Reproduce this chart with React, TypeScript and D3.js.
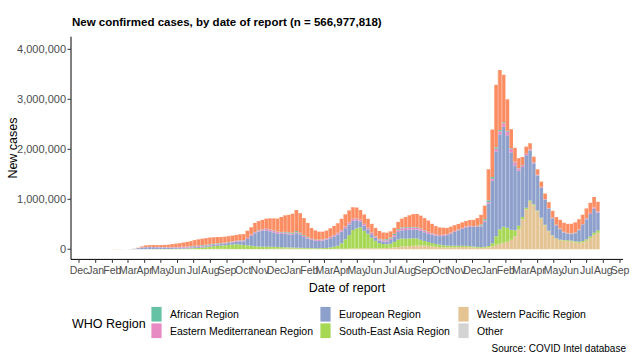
import React from 'react';
import * as d3 from 'd3';

// weekly bars, values = daily cases (thousands) for a typical day of the week
const firstWeek = new Date(2019, 11, 30);
const weekCount = 134;

const westernPacific = [
  0, 0, 0, 0.2, 2, 3.5, 4, 2, 0.6, 0.8,
  0.6, 0.8, 1.2, 1.6, 2, 1.6, 1.2, 1, 0.8, 0.8,
  1, 1.2, 1.5, 1.8, 2, 2.5, 3, 3.5, 4, 5,
  6, 7, 8, 8, 7, 6.5, 6, 6, 6, 6,
  5.5, 5, 5, 5.5, 6, 7, 8, 9, 10, 11,
  12, 13, 12, 11, 11, 10, 9, 8, 7, 6,
  6, 6, 7, 8, 9, 10, 11, 13, 15, 16,
  18, 20, 22, 22, 20, 18, 20, 25, 30, 38,
  45, 55, 60, 65, 70, 75, 75, 75, 70, 60,
  50, 45, 40, 38, 38, 40, 42, 45, 45, 42,
  35, 30, 28, 30, 40, 60, 90, 110, 130, 150,
  190, 260, 400, 600, 800, 950, 880, 760, 620, 480,
  360, 270, 210, 180, 170, 165, 155, 140, 130, 140,
  170, 220, 290, 330,
];

const southEastAsia = [
  0, 0, 0, 0, 0, 0, 0, 0, 0, 0,
  0.02, 0.1, 0.3, 0.6, 1, 1.5, 2, 2.5, 3.5, 4.5,
  6, 7.5, 9, 11, 13, 16, 20, 25, 30, 36,
  45, 54, 60, 66, 72, 80, 88, 93, 88, 80,
  72, 65, 56, 50, 46, 45, 43, 40, 36, 32,
  28, 25, 22, 20, 19, 17, 16, 15, 14, 16,
  18, 20, 28, 42, 62, 110, 190, 270, 370, 400,
  420, 350, 290, 210, 150, 105, 85, 75, 80, 110,
  150, 160, 150, 150, 150, 140, 115, 90, 75, 65,
  55, 48, 40, 35, 32, 30, 28, 26, 24, 22,
  20, 18, 17, 18, 25, 60, 170, 290, 320, 280,
  200, 120, 70, 45, 30, 25, 20, 15, 12, 10,
  10, 10, 10, 12, 14, 16, 18, 20, 22, 25,
  30, 35, 40, 45,
];

const european = [
  0, 0, 0, 0, 0, 0, 0, 0, 0, 2,
  8, 20, 32, 38, 39, 38, 35, 33, 30, 26,
  22, 20, 19, 19, 19, 19, 20, 20, 20, 21,
  22, 24, 27, 30, 34, 38, 44, 52, 66, 75,
  130, 200, 260, 300, 320, 325, 310, 290, 270, 265,
  270, 260, 255, 290, 260, 220, 190, 165, 150, 145,
  150, 165, 185, 205, 225, 230, 220, 215, 185, 160,
  120, 105, 85, 70, 60, 52, 50, 55, 75, 105,
  150, 165, 175, 175, 175, 180, 180, 175, 170, 165,
  165, 170, 190, 210, 245, 280, 310, 340, 370, 390,
  390, 400, 410, 500, 850, 1250, 1700, 1900, 2000, 1850,
  1550, 1300, 1100, 1000, 1050, 1000, 820, 700, 600, 500,
  440, 340, 260, 210, 150, 130, 130, 160, 230, 320,
  400, 450, 480, 360,
];

const easternMed = [
  0, 0, 0, 0, 0, 0, 0, 0, 0, 1.2,
  1.5, 2.2, 3, 4, 5, 5.5, 6.5, 7, 8, 9,
  10, 12, 14, 16, 18, 18, 17, 17, 16, 15,
  14, 13, 12, 12, 12, 13, 14, 15, 16, 17,
  18, 19, 20, 22, 25, 28, 30, 31, 30, 28,
  25, 23, 21, 20, 20, 19, 18, 18, 18, 19,
  20, 22, 24, 26, 28, 30, 32, 34, 35, 34,
  32, 30, 27, 25, 24, 24, 25, 27, 29, 32,
  36, 40, 42, 42, 41, 40, 38, 35, 31, 27,
  23, 20, 18, 16, 15, 14, 13, 13, 13, 13,
  14, 15, 18, 25, 30, 40, 50, 60, 70, 75,
  70, 60, 45, 35, 28, 22, 18, 15, 12, 10,
  9, 8, 8, 8, 8, 9, 10, 12, 14, 16,
  18, 20, 22, 22,
];

const african = [
  0, 0, 0, 0, 0, 0, 0, 0, 0, 0,
  0.02, 0.1, 0.3, 0.6, 0.8, 1, 1.2, 1.3, 1.6, 1.8,
  2.2, 2.8, 3.5, 4.5, 5.5, 7, 9, 11, 13, 14,
  15, 14, 12, 10, 8, 7, 6, 5.5, 5, 5,
  5, 5.5, 6, 6, 6.5, 7, 7.5, 8, 9, 11,
  14, 18, 22, 24, 22, 18, 14, 10, 8, 7,
  6, 6, 6, 6, 6, 5.5, 5.5, 5, 5, 5,
  5, 5.5, 6, 7, 9, 12, 16, 20, 24, 25,
  22, 18, 15, 13, 12, 11, 10, 9, 8, 7,
  6, 5, 4, 3.5, 3, 3, 3, 3, 3, 3,
  4, 10, 25, 30, 35, 35, 30, 25, 20, 15,
  12, 10, 8, 6, 5, 4, 4, 4, 4, 4,
  4, 5, 6, 8, 9, 8, 7, 6, 5, 5,
  4, 4, 4, 3,
];

const americas = [
  0, 0, 0, 0, 0, 0, 0, 0, 0, 0.3,
  1.5, 7, 20, 32, 36, 37, 38, 40, 44, 48,
  62, 68, 75, 82, 90, 100, 115, 122, 128, 132,
  132, 128, 125, 120, 118, 118, 115, 115, 118, 120,
  140, 145, 180, 180, 185, 200, 220, 240, 260, 300,
  330, 350, 380, 420, 390, 340, 280, 210, 180, 160,
  152, 155, 170, 180, 190, 225, 240, 240, 230, 220,
  190, 185, 180, 175, 165, 155, 140, 130, 120, 120,
  145, 175, 205, 235, 255, 260, 255, 240, 220, 185,
  165, 150, 140, 125, 120, 115, 110, 110, 110, 115,
  125, 150, 190, 270, 620, 950, 1250, 1200, 950, 630,
  380, 280, 200, 160, 140, 120, 110, 105, 105, 110,
  120, 135, 150, 170, 180, 180, 190, 200, 200, 185,
  195, 200, 210, 190,
];

// stacking order, bottom first
const stackKeys = ['wpr', 'sear', 'eur', 'emr', 'afr', 'amr'];
const series: Record<string, number[]> = {
  wpr: westernPacific, sear: southEastAsia, eur: european,
  emr: easternMed, afr: african, amr: americas,
};
const colors: Record<string, string> = {
  afr: '#66c2a5', amr: '#fc8d62', emr: '#e78ac3', eur: '#8da0cb',
  sear: '#a6d854', wpr: '#e5c494', other: '#d3d3d3',
};

const legendItems = [
  { key: 'afr', label: 'African Region' },
  { key: 'emr', label: 'Eastern Mediterranean Region' },
  { key: 'eur', label: 'European Region' },
  { key: 'sear', label: 'South-East Asia Region' },
  { key: 'wpr', label: 'Western Pacific Region' },
  { key: 'other', label: 'Other' },
];

const yTicks = [0, 1000000, 2000000, 3000000, 4000000];

const W = 641, H = 364;
const panel = { left: 71, right: 623, top: 36.7, bottom: 259.4 };
const font = 'Liberation Sans, Arial, Helvetica, sans-serif';

export default function App() {
  const weeks = d3.range(weekCount).map(i => d3.timeDay.offset(firstWeek, 7 * i));
  const rows = weeks.map((w, i) => {
    const r: any = { date: w };
    stackKeys.forEach(k => { r[k] = series[k][i] * 1000; });
    return r;
  });
  const stacked = d3.stack<any>().keys(stackKeys)(rows);

  const x = d3.scaleTime()
    .domain([new Date(2019, 11, 1), new Date(2022, 8, 1)])
    .range([79, 620]);
  const y = d3.scaleLinear()
    .domain([-202500, 4252500])
    .range([panel.bottom, panel.top]);

  const months = d3.timeMonth.range(new Date(2019, 11, 1), new Date(2022, 8, 2));
  const fmtMonth = d3.timeFormat('%b');
  const fmtNum = d3.format(',');

  const barX = (d: Date) => x(d);
  const barW = (d: Date) => x(d3.timeDay.offset(d, 7)) - x(d);
  const top = stacked[stacked.length - 1];

  const legendCols = [151, 320, 458];

  return (
    <svg width={W} height={H} style={{ position: 'absolute', left: 0, top: 0, background: '#fff' }}
      fontFamily={font}>
      <rect width={W} height={H} fill="#fff" />
      <text x={72} y={26} fontSize={11.5} fontWeight="bold" fill="#000">
        New confirmed cases, by date of report (n = 566,977,818)
      </text>

      {stacked.map(layer => (
        <g key={layer.key} fill={colors[layer.key]}>
          {layer.map((d, i) => (
            <rect key={i} x={barX(d.data.date)} width={barW(d.data.date) + 0.1}
              y={y(d[1])} height={Math.max(0, y(d[0]) - y(d[1]))} />
          ))}
        </g>
      ))}
      <g fill="#fff" opacity={0.35}>
        {top.map((d, i) => (
          <rect key={i} x={barX(d.data.date)} width={0.8}
            y={y(d[1])} height={Math.max(0, y(0) - y(d[1]))} />
        ))}
      </g>

      {/* y axis */}
      <line x1={panel.left} x2={panel.left} y1={panel.top} y2={panel.bottom} stroke="#000" strokeWidth={1} />
      {yTicks.map(t => (
        <g key={t}>
          <line x1={panel.left - 3.5} x2={panel.left} y1={y(t)} y2={y(t)} stroke="#333" />
          <text x={panel.left - 5} y={y(t)} dy="0.35em" textAnchor="end" fontSize={11} fill="#4d4d4d">
            {fmtNum(t)}
          </text>
        </g>
      ))}

      {/* x axis */}
      <line x1={panel.left} x2={panel.right} y1={panel.bottom} y2={panel.bottom} stroke="#000" strokeWidth={1} />
      {months.map(m => (
        <g key={m.getTime()}>
          <line x1={x(m)} x2={x(m)} y1={panel.bottom} y2={panel.bottom + 3.5} stroke="#333" />
          <text x={x(m)} y={panel.bottom + 15} textAnchor="middle" fontSize={10.5} fill="#4d4d4d">
            {fmtMonth(m)}
          </text>
        </g>
      ))}

      <text x={(panel.left + panel.right) / 2} y={292} textAnchor="middle" fontSize={12.5} fill="#000">
        Date of report
      </text>
      <text transform={`translate(17,${(panel.top + panel.bottom) / 2}) rotate(-90)`} textAnchor="middle"
        fontSize={12.5} fill="#000">
        New cases
      </text>

      {/* legend */}
      <text x={72} y={328} fontSize={12.5} fill="#000">WHO Region</text>
      {legendItems.map((it, i) => {
        const col = Math.floor(i / 2);
        const row = i % 2;
        const lx = legendCols[col];
        const ly = 306.5 + row * 16.5;
        return (
          <g key={it.key}>
            <rect x={lx} y={ly} width={11} height={15.5} fill={colors[it.key]} stroke="#fff" strokeWidth={0.8} />
            <text x={lx + 19} y={ly + 11.5} fontSize={10.5} fill="#000">{it.label}</text>
          </g>
        );
      })}

      <text x={626} y={352} textAnchor="end" fontSize={10} fill="#000">Source: COVID Intel database</text>
    </svg>
  );
}
